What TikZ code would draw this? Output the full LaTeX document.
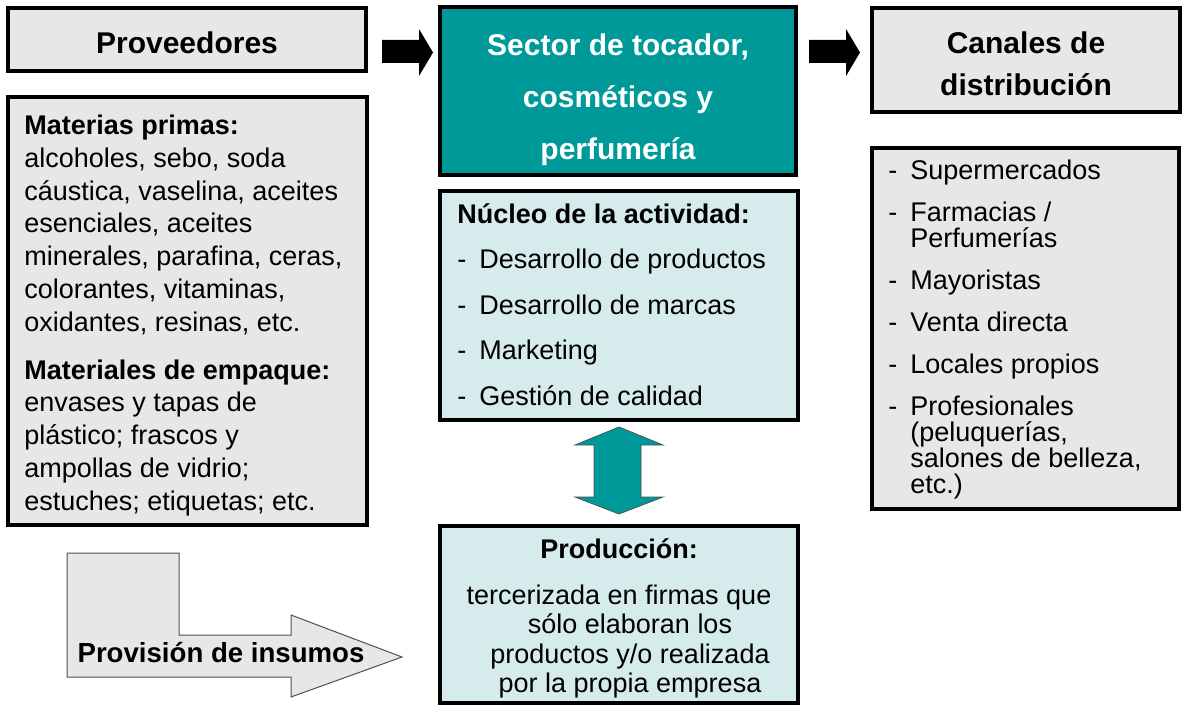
\documentclass[tikz,border=0pt]{standalone}
\usepackage{fontspec}
\setmainfont{Liberation Sans}
\definecolor{tealbg}{RGB}{0,153,153}
\definecolor{palebg}{RGB}{214,235,236}
\definecolor{greyfill}{RGB}{231,231,231}
\definecolor{darkline}{RGB}{80,80,80}
\newcommand{\capstrut}{\rule{0pt}{12pt}}
\newcommand{\bigstrut}{\rule{0pt}{13pt}}
\newcommand{\itemdash}{\makebox[11pt][l]{-}}
\newcommand{\itemskip}{\makebox[11pt]{}}
\tikzset{
  box/.style={draw=black, line width=1.6pt, anchor=north west, inner sep=0pt, outer sep=0pt},
  greybox/.style={box, fill=greyfill},
  tealbox/.style={box, fill=tealbg},
  palebox/.style={box, fill=palebg},
  bodytxt/.style={inner sep=0pt, anchor=north west, align=left},
  headtxt/.style={inner sep=0pt, font=\fontsize{15}{18}\selectfont\bfseries},
  blockarrow/.style={fill=black},
  dblarrow/.style={fill=tealbg, draw=darkline, line width=0.4pt},
  bentarrow/.style={fill=greyfill, draw=darkline, line width=0.5pt}
}

\begin{document}
\begin{tikzpicture}[x=0.5pt,y=-0.5pt]
\useasboundingbox (0,0) rectangle (1182,706);
%
\node[greybox, minimum width=179pt, minimum height=31.5pt] (prov) at (8,8) {};
\node[greybox, minimum width=179.5pt, minimum height=214pt] (insumos) at (8,97) {};
\node[tealbox, minimum width=178pt, minimum height=84pt] (sector) at (440,7) {};
\node[palebox, minimum width=179pt, minimum height=114.5pt] (nucleo) at (440,191) {};
\node[palebox, minimum width=179pt, minimum height=88.5pt] (prod) at (440,526) {};
\node[greybox, minimum width=154pt, minimum height=52pt] (canales) at (872,8) {};
\node[greybox, minimum width=153.5pt, minimum height=180.5pt] (lista) at (872,148) {};
%
\fill[blockarrow] (382,40) -- (419,40) -- (419,29) -- (433,52.5) -- (419,76) -- (419,63) -- (382,63) -- cycle;
\fill[blockarrow] (809,40) -- (846,40) -- (846,29) -- (860,52.5) -- (846,76) -- (846,63) -- (809,63) -- cycle;
\draw[dblarrow] (594,445) -- (575,445) -- (619,427) -- (663,445) -- (641,445) -- (641,497)
  -- (663,497) -- (619,514) -- (575,497) -- (594,497) -- cycle;
\draw[bentarrow] (67,553) -- (179,553) -- (179,635) -- (291,635) -- (291,615) -- (402,657)
  -- (291,697) -- (291,677) -- (67,677) -- cycle;
%
\node[headtxt, anchor=base] (tprov) at (187,54) {Proveedores};
\node[headtxt, anchor=north, align=center, text=white, font=\fontsize{15}{26}\selectfont\bfseries]
  (tsector) at (618,29) {\bigstrut Sector de tocador,\\cosméticos y\\perfumería};
\node[headtxt, anchor=north, align=center, font=\fontsize{15}{21}\selectfont\bfseries]
  (tcanales) at (1026,27) {\bigstrut Canales de\\distribución};
%
\node[bodytxt, font=\fontsize{13.5}{16.4}\selectfont] (tinsumos) at (24,110)
  {\capstrut\textbf{Materias primas:}\\alcoholes, sebo, soda\\cáustica, vaselina, aceites\\esenciales, aceites\\minerales, parafina, ceras,\\colorantes, vitaminas,\\oxidantes, resinas, etc.\\[7.5pt]
   \textbf{Materiales de empaque:}\\envases y tapas de\\plástico; frascos y\\ampollas de vidrio;\\estuches; etiquetas; etc.};
\node[bodytxt, font=\fontsize{13.5}{22.75}\selectfont] (tnucleo) at (457,199)
  {\capstrut\textbf{Núcleo de la actividad:}\\\itemdash Desarrollo de productos\\\itemdash Desarrollo de marcas\\\itemdash Marketing\\\itemdash Gestión de calidad};
\node[inner sep=0pt, anchor=base, font=\fontsize{13.5}{16}\selectfont\bfseries] (tprodhead) at (619,558) {Producción:};
\node[bodytxt, anchor=north, align=center, font=\fontsize{13.5}{14.75}\selectfont] (tprod) at (630,580)
  {\capstrut tercerizada en firmas que\rule{11pt}{0pt}\\sólo elaboran los\\productos y/o realizada\\por la propia empresa};
\node[bodytxt, font=\fontsize{13.5}{13}\selectfont] (tlista) at (888,155)
  {\capstrut\itemdash Supermercados\\[8pt]\itemdash Farmacias /\\\itemskip Perfumerías\\[8pt]\itemdash Mayoristas\\[8pt]
   \itemdash Venta directa\\[8pt]\itemdash Locales propios\\[8pt]\itemdash Profesionales\\\itemskip (peluquerías,\\\itemskip salones de belleza,\\\itemskip etc.)};
\node[inner sep=0pt, anchor=base, font=\fontsize{13.8}{16}\selectfont\bfseries] (tprovision) at (221,662) {Provisión de insumos};
\end{tikzpicture}
\end{document}
